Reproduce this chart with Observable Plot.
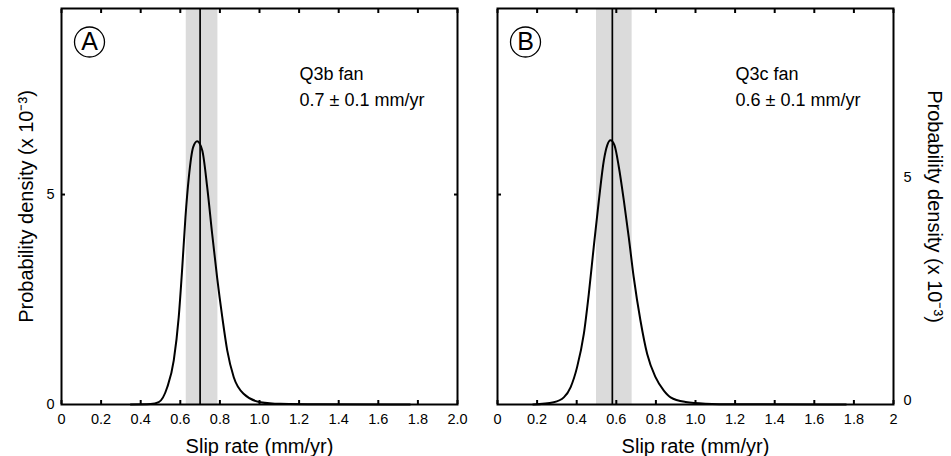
<!DOCTYPE html>
<html><head><meta charset="utf-8">
<script src="https://cdn.jsdelivr.net/npm/d3@7"></script>
<script src="https://cdn.jsdelivr.net/npm/@observablehq/plot@0.6"></script>
<style>
body{margin:0;background:#fff;}
#wrap{display:flex;width:951px;height:456px;}
#wrap svg{overflow:visible;}
</style></head><body><div id="wrap"></div>
<script>
// ---- data ----
const xTicks = [0, 0.2, 0.4, 0.6, 0.8, 1.0, 1.2, 1.4, 1.6, 1.8, 2.0];
const xLabelsA = ["0", "0.2", "0.4", "0.6", "0.8", "1.0", "1.2", "1.4", "1.6", "1.8", "2.0"];
const xLabelsB = ["0", "0.2", "0.4", "0.6", "0.8", "1.0", "1.2", "1.4", "1.6", "1.8", "2"];
const yTicks = [0, 5];
const yLabels = ["0", "5"];
const yTitle = "Probability density (x 10\u207B\u00B3)";
const xTitle = "Slip rate (mm/yr)";

// Panel A: Q3b fan
const rateA = [0.35, 0.45, 0.491, 0.534, 0.567, 0.592, 0.610, 0.626, 0.643, 0.665, 0.685, 0.711, 0.736, 0.761, 0.786, 0.812, 0.837, 0.870, 0.921, 1.005, 1.106, 1.3, 1.76];
const densA = [0.0, 0.01, 0.055, 0.41, 1.05, 2.08, 3.27, 4.46, 5.41, 6.13, 6.27, 6.05, 5.17, 4.06, 3.02, 2.08, 1.29, 0.65, 0.25, 0.055, 0.015, 0.004, 0.0];
const bandA = [0.63, 0.79];
const centerA = 0.70;

// Panel B: Q3c fan
const rateB = [0.18, 0.284, 0.335, 0.369, 0.402, 0.436, 0.461, 0.486, 0.512, 0.537, 0.554, 0.571, 0.591, 0.613, 0.638, 0.663, 0.688, 0.722, 0.756, 0.798, 0.840, 0.874, 0.95, 1.05, 1.2, 1.76];
const densB = [0.0, 0.055, 0.17, 0.41, 0.89, 1.68, 2.63, 3.75, 4.86, 5.81, 6.17, 6.29, 6.17, 5.65, 4.86, 3.98, 3.03, 2.0, 1.2, 0.65, 0.33, 0.17, 0.06, 0.02, 0.006, 0.0];
const bandB = [0.50, 0.68];
const centerB = 0.58;

const panelLetters = ["A", "B"];
const notes = ["Q3b fan\n0.7 \u00B1 0.1 mm/yr", "Q3c fan\n0.6 \u00B1 0.1 mm/yr"];

const yMax = 9.43;
const FONT = "'Liberation Sans', Arial, Helvetica, sans-serif";

function panel({rate, dens, band, center, letter, note, xLabels, width, marginLeft, marginRight, leftLabels, rightLabels, leftTitle, rightTitle}) {
  const curve = rate.map((r, i) => ({x: r, y: dens[i]}));
  const fmtX = d => xLabels[xTicks.indexOf(d)];
  const fmtY = d => yLabels[yTicks.indexOf(d)];
  const marks = [
    Plot.rect([band], {x1: d => d[0], x2: d => d[1], fill: "#dbdbdb"}),
    Plot.ruleX([center], {stroke: "black", strokeWidth: 1.7}),
    Plot.line(curve, {x: "x", y: "y", curve: "monotone-x", stroke: "black", strokeWidth: 2}),
    // inward ticks
    Plot.axisX(xTicks, {anchor: "bottom", tickSize: 4, dy: -4, fill: "none", label: null, strokeWidth: 2}),
    Plot.axisX(xTicks, {anchor: "top", tickSize: 4, dy: 4, fill: "none", label: null, strokeWidth: 2}),
    Plot.axisY([5], {anchor: "left", tickSize: 4, dx: 4, fill: "none", label: null, strokeWidth: 2}),
    // tick labels
    Plot.axisX(xTicks, {anchor: "bottom", tickSize: 0, tickPadding: 9, tickFormat: fmtX, label: null, fontSize: 14.5}),
    Plot.frame({stroke: "black", strokeWidth: 2}),
    // panel letter
    Plot.dot([letter], {frameAnchor: "top-left", dx: 28, dy: 33.5, r: 15, stroke: "black", strokeWidth: 1.3, fill: "none"}),
    Plot.text([letter], {frameAnchor: "top-left", dx: 28, dy: 33.5, text: d => d, fontSize: 25, textAnchor: "middle", lineAnchor: "middle"}),
    // annotation
    Plot.text([note], {frameAnchor: "top-left", dx: 238, dy: 53, text: d => d, fontSize: 18, textAnchor: "start", lineAnchor: "top", lineHeight: 1.45}),
    // x title
    Plot.text([xTitle], {frameAnchor: "bottom", dy: 41.6, text: d => d, fontSize: 20, textAnchor: "middle", lineAnchor: "middle"})
  ];
  if (leftLabels) {
    marks.push(Plot.axisY(yTicks, {anchor: "left", tickSize: 0, tickPadding: 7, tickFormat: fmtY, label: null, fontSize: 14.5}));
    marks.push(Plot.axisY([5], {anchor: "right", tickSize: 4, dx: -4, fill: "none", label: null, strokeWidth: 2}));
  }
  if (leftTitle) marks.push(Plot.text([yTitle], {frameAnchor: "left", dx: -35, rotate: -90, text: d => d, fontSize: 20, textAnchor: "middle", lineAnchor: "middle"}));
  if (rightLabels) {
    // the right-hand labels sit slightly above the left-hand tick positions in the original
    marks.push(Plot.axisY([yTicks[0]], {anchor: "right", tickSize: 0, tickPadding: 10, dy: -4, tickFormat: fmtY, label: null, fontSize: 14.5}));
    marks.push(Plot.axisY([yTicks[1]], {anchor: "right", tickSize: 0, tickPadding: 10, dy: -17, tickFormat: fmtY, label: null, fontSize: 14.5}));
  }
  if (rightTitle) marks.push(Plot.text([yTitle], {frameAnchor: "right", dx: 41.4, rotate: 90, text: d => d, fontSize: 20, textAnchor: "middle", lineAnchor: "middle"}));
  return Plot.plot({
    width, height: 456,
    marginLeft, marginRight, marginTop: 8, marginBottom: 52,
    x: {domain: [0, 2], axis: null},
    y: {domain: [0, yMax], axis: null},
    style: {fontFamily: FONT, color: "black", background: "white", overflow: "visible"},
    marks
  });
}

const wrap = document.getElementById("wrap");
wrap.append(panel({rate: rateA, dens: densA, band: bandA, center: centerA, letter: panelLetters[0], note: notes[0], xLabels: xLabelsA,
  width: 475, marginLeft: 61, marginRight: 18, leftLabels: true, leftTitle: true}));
wrap.append(panel({rate: rateB, dens: densB, band: bandB, center: centerB, letter: panelLetters[1], note: notes[1], xLabels: xLabelsB,
  width: 476, marginLeft: 22, marginRight: 58, rightLabels: true, rightTitle: true}));
</script></body></html>
